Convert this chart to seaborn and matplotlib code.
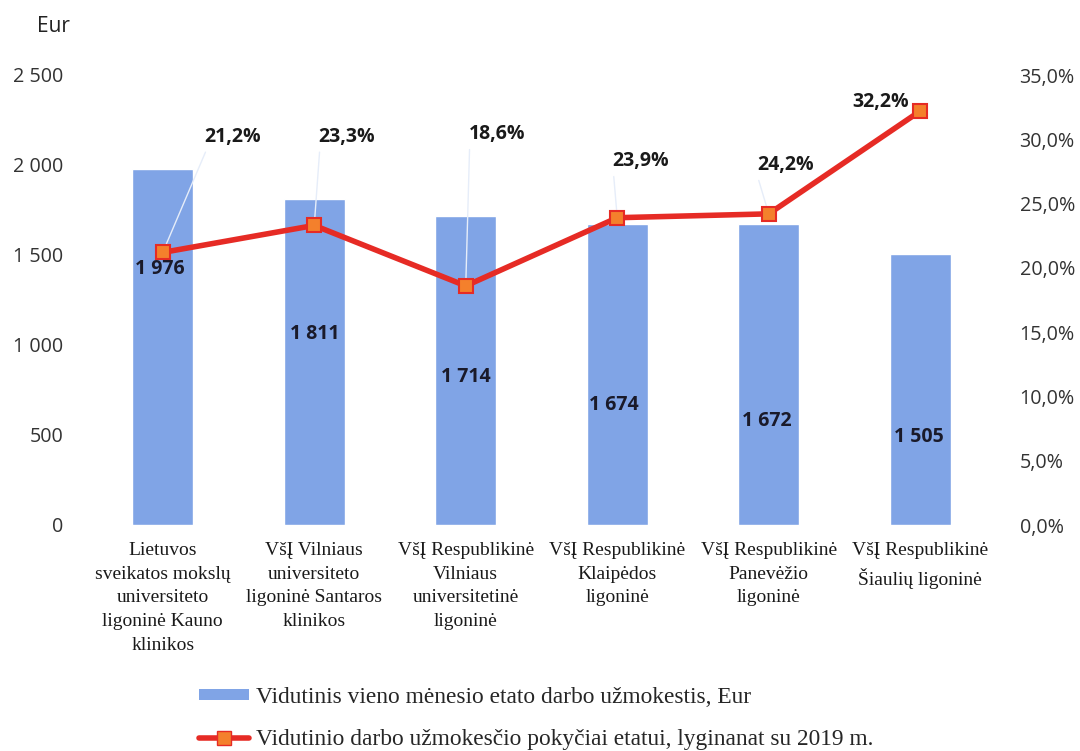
import matplotlib
matplotlib.use("Agg")
import matplotlib.pyplot as plt
import seaborn as sns
import numpy as np
import pandas as pd
from matplotlib.lines import Line2D
from matplotlib.patches import Patch

# ---------------- data ----------------
categories = [
    "Lietuvos\nsveikatos mokslų\nuniversiteto\nligoninė Kauno\nklinikos",
    "VšĮ Vilniaus\nuniversiteto\nligoninė Santaros\nklinikos",
    "VšĮ Respublikinė\nVilniaus\nuniversitetinė\nligoninė",
    "VšĮ Respublikinė\nKlaipėdos\nligoninė",
    "VšĮ Respublikinė\nPanevėžio\nligoninė",
    "VšĮ Respublikinė\nŠiaulių ligoninė",
]
salary = [1976, 1811, 1714, 1674, 1672, 1505]
change_pct = [21.2, 23.3, 18.6, 23.9, 24.2, 32.2]
left_ticks = [0, 500, 1000, 1500, 2000, 2500]
left_tick_labels = ["0", "500", "1 000", "1 500", "2 000", "2 500"]
right_ticks = [0, 5, 10, 15, 20, 25, 30, 35]
right_tick_labels = ["0,0%", "5,0%", "10,0%", "15,0%", "20,0%", "25,0%", "30,0%", "35,0%"]
salary_labels = ["1 976", "1 811", "1 714", "1 674", "1 672", "1 505"]
pct_labels = ["21,2%", "23,3%", "18,6%", "23,9%", "24,2%", "32,2%"]
legend_labels = [
    "Vidutinis vieno mėnesio etato darbo užmokestis, Eur",
    "Vidutinio darbo užmokesčio pokyčiai etatui, lyginanat su 2019 m.",
]

# label placement (manual, as in the source chart)
salary_label_y = [1420, 1060, 820, 665, 577, 488]
salary_label_dx = [-0.02, 0.0, 0.0, -0.02, -0.01, -0.01]
pct_label_xy = [(0.462, 30.2), (1.215, 30.2), (2.205, 30.4),
                (3.157, 28.3), (4.114, 28.0), (4.736, 32.9)]

BAR_COLOR = "#80a4e6"
LINE_COLOR = "#e62b25"
MARKER_FACE = "#f4802c"

sns.set_theme(style="white")
plt.rcParams["font.family"] = ["Open Sans", "DejaVu Sans"]

fig = plt.figure(figsize=(10.8, 7.51), dpi=100)
ax = fig.add_axes([87 / 1080, 1 - 525 / 751, (996 - 87) / 1080, 450 / 751])

df = pd.DataFrame({"cat": categories, "salary": salary, "pos": np.arange(len(categories)),
                   "pct": change_pct})
sns.barplot(data=df, x="cat", y="salary", color=BAR_COLOR, width=0.4, saturation=1,
            ax=ax, zorder=1)
ax.set_ylim(0, 2500)
ax.set_xlim(-0.5, len(categories) - 0.5)
ax.set_yticks(left_ticks)
ax.set_yticklabels(left_tick_labels, fontsize=14.2, color="#333333")
ax.set_xticks(range(len(categories)))
ax.set_xticklabels(categories, fontsize=14, family=["Liberation Serif"], color="#1a1a1a",
                   linespacing=1.53)
ax.tick_params(axis="x", length=0, pad=12)
ax.tick_params(axis="y", length=0, pad=17)
ax.set_xlabel("")
ax.set_ylabel("")
for s in ax.spines.values():
    s.set_visible(False)

for i, (lab, yv) in enumerate(zip(salary_labels, salary_label_y)):
    ax.text(i + salary_label_dx[i], yv, lab, ha="center", va="center", fontsize=14,
            fontweight="bold", color="#1a1a2a", zorder=5)

ax2 = ax.twinx()
ax2.set_ylim(0, 35)
# leader lines
for i, (pv, (lx, ly)) in enumerate(zip(change_pct, pct_label_xy)):
    if i < 5:
        ax2.plot([i, lx - 0.18], [pv, ly - 1.2], color="#e6edf9", lw=1.0, zorder=2)
sns.lineplot(data=df, x="pos", y="pct", ax=ax2, color=LINE_COLOR, lw=4, sort=False,
             marker="s", markersize=10, markerfacecolor=MARKER_FACE,
             markeredgecolor=LINE_COLOR, markeredgewidth=1.5, zorder=3)
ax2.set_yticks(right_ticks)
ax2.set_yticklabels(right_tick_labels, fontsize=14.2, color="#333333")
ax2.tick_params(axis="y", length=0, pad=17)
ax2.set_ylabel("")
ax2.set_xlabel("")
ax2.set_xlim(-0.5, len(categories) - 0.5)
for s in ax2.spines.values():
    s.set_visible(False)

for lab, (lx, ly) in zip(pct_labels, pct_label_xy):
    ax2.text(lx, ly, lab, ha="center", va="center", fontsize=14, fontweight="bold",
             color="#1a1a1a", zorder=6)

fig.text(37 / 1080, 1 - 27 / 751, "Eur", fontsize=15, color="#222222", va="center", ha="left")

handles = [
    Patch(facecolor=BAR_COLOR, edgecolor="none"),
    Line2D([0], [0], color=LINE_COLOR, lw=4, marker="s", markersize=10,
           markerfacecolor=MARKER_FACE, markeredgecolor=LINE_COLOR),
]
fig.legend(handles, legend_labels, loc="upper left",
           bbox_to_anchor=(178 / 1080, 1 - 666 / 751), frameon=False,
           prop={"family": "Liberation Serif", "size": 16.8},
           handlelength=2.15, handleheight=0.3, handletextpad=0.3, labelspacing=0.9)

fig.savefig("out.png", dpi=100)
